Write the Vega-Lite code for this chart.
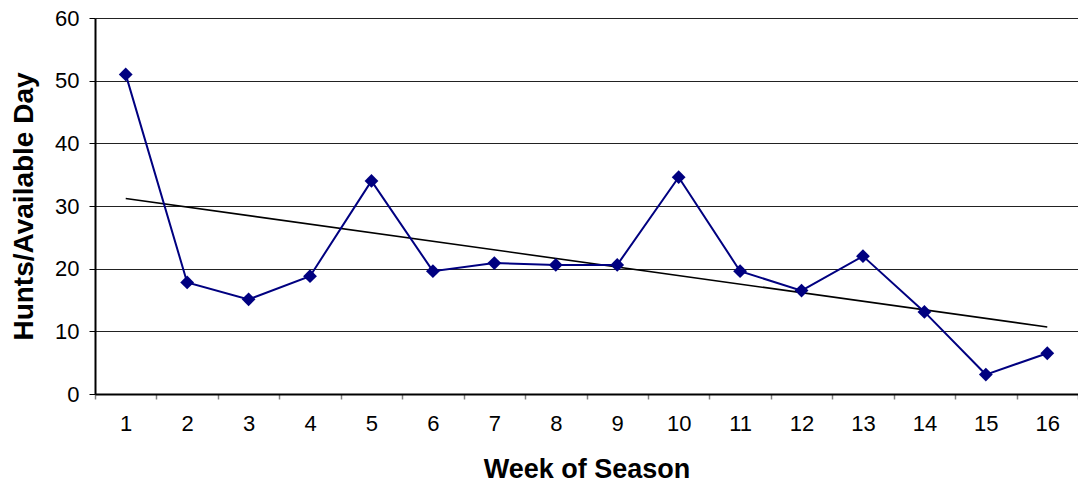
{
  "$schema": "https://vega.github.io/schema/vega-lite/v6.json",
  "width": 983,
  "height": 376,
  "autosize": {"type": "none"},
  "padding": {"left": 95, "top": 18, "right": 0, "bottom": 96},
  "background": "white",
  "config": {
    "view": {"stroke": null},
    "font": "Liberation Sans",
    "axis": {"labelFont": "Liberation Sans", "titleFont": "Liberation Sans", "labelColor": "black", "titleColor": "black"}
  },
  "datasets": {
    "main": [
      {"week": 1, "hunts": 51.0},
      {"week": 2, "hunts": 17.8},
      {"week": 3, "hunts": 15.1},
      {"week": 4, "hunts": 18.8},
      {"week": 5, "hunts": 34.0},
      {"week": 6, "hunts": 19.6},
      {"week": 7, "hunts": 20.9},
      {"week": 8, "hunts": 20.6},
      {"week": 9, "hunts": 20.6},
      {"week": 10, "hunts": 34.6},
      {"week": 11, "hunts": 19.6},
      {"week": 12, "hunts": 16.5},
      {"week": 13, "hunts": 22.0},
      {"week": 14, "hunts": 13.1},
      {"week": 15, "hunts": 3.1},
      {"week": 16, "hunts": 6.5}
    ],
    "trend": [
      {"week": 1, "trend": 31.2},
      {"week": 16, "trend": 10.7}
    ]
  },
  "layer": [
    {
      "data": {"name": "trend"},
      "mark": {"type": "line", "color": "black", "strokeWidth": 1.6},
      "encoding": {
        "x": {"field": "week", "type": "ordinal", "bandPosition": 0.5,
              "scale": {"type": "band", "paddingInner": 0, "paddingOuter": 0, "domain": [1,2,3,4,5,6,7,8,9,10,11,12,13,14,15,16]},
              "title": "Week of Season",
              "axis": {"labelAngle": 0, "tickBand": "extent", "labelFontSize": 22, "labelPadding": 14, "tickSize": 5, "tickColor": "#808080", "tickWidth": 1.5, "domainColor": "black", "domainWidth": 2, "titleFontSize": 27, "titleFontWeight": "bold", "titlePadding": 22}},
        "y": {"field": "trend", "type": "quantitative",
              "scale": {"domain": [0, 60]},
              "title": "Hunts/Available Day",
              "axis": {"values": [0,10,20,30,40,50,60], "labelFontSize": 22, "labelPadding": 10, "tickSize": 6, "tickColor": "black", "domainColor": "black", "domainWidth": 2, "grid": true, "gridColor": "#222222", "gridWidth": 1.2, "titleFontSize": 28, "titleFontWeight": "bold", "titlePadding": 16}}
      }
    },
    {
      "data": {"name": "main"},
      "mark": {"type": "line", "color": "#000080", "strokeWidth": 2, "point": {"shape": "diamond", "size": 190, "color": "#000080", "filled": true, "opacity": 1}},
      "encoding": {
        "x": {"field": "week", "type": "ordinal", "bandPosition": 0.5},
        "y": {"field": "hunts", "type": "quantitative"}
      }
    }
  ]
}
